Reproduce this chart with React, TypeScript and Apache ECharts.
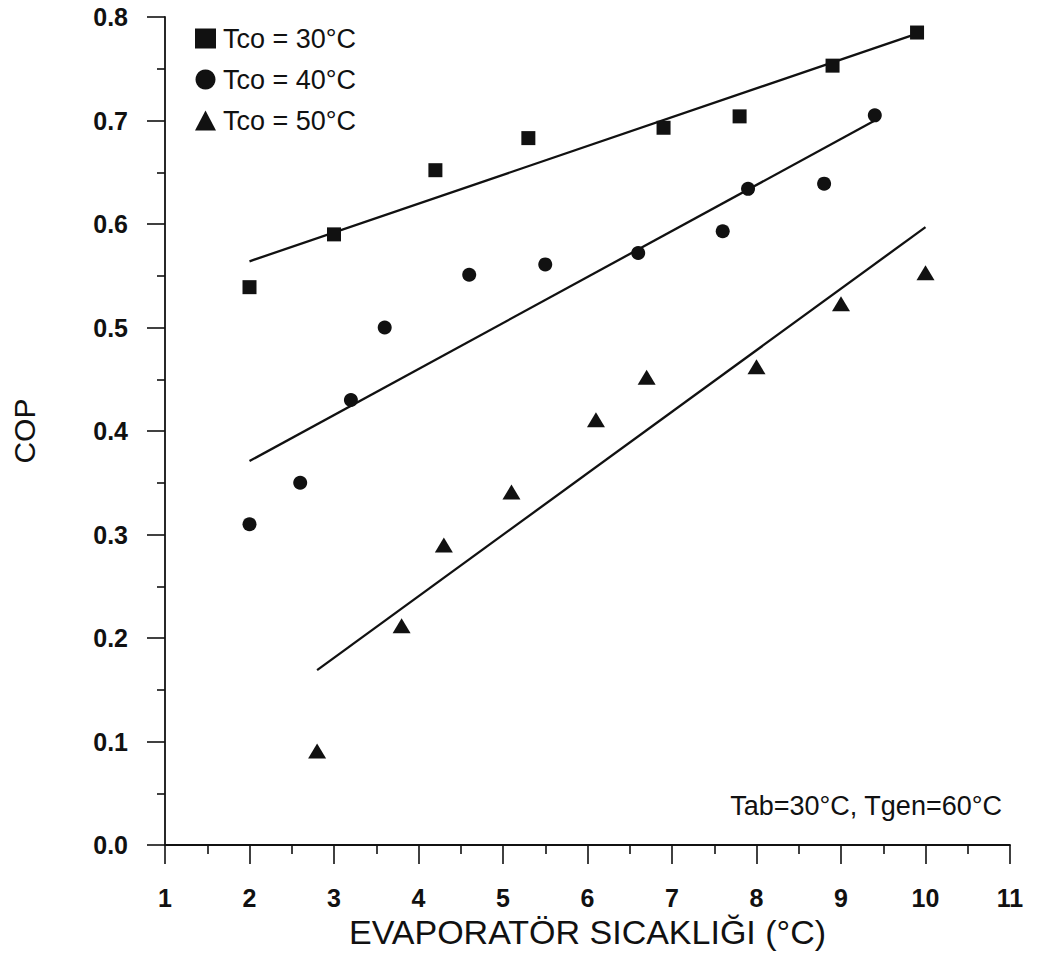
import React, { useEffect, useRef } from "react";
import * as echarts from "echarts";

const seriesNames = ["Tco = 30°C", "Tco = 40°C", "Tco = 50°C"];

const tco30: [number, number][] = [
  [2.0, 0.539], [3.0, 0.59], [4.2, 0.652], [5.3, 0.683],
  [6.9, 0.693], [7.8, 0.704], [8.9, 0.753], [9.9, 0.785],
];
const tco40: [number, number][] = [
  [2.0, 0.31], [2.6, 0.35], [3.2, 0.43], [3.6, 0.5], [4.6, 0.551],
  [5.5, 0.561], [6.6, 0.572], [7.6, 0.593], [7.9, 0.634], [8.8, 0.639], [9.4, 0.705],
];
const tco50: [number, number][] = [
  [2.8, 0.091], [3.8, 0.212], [4.3, 0.29], [5.1, 0.341], [6.1, 0.411],
  [6.7, 0.452], [8.0, 0.462], [9.0, 0.523], [10.0, 0.553],
];

const fit30: [number, number][] = [[2.0, 0.564], [9.9, 0.784]];
const fit40: [number, number][] = [[2.0, 0.371], [9.4, 0.7]];
const fit50: [number, number][] = [[2.8, 0.169], [10.0, 0.597]];

const xAxisTitle = "EVAPORATÖR SICAKLIĞI (°C)";
const yAxisTitle = "COP";
const noteText = "Tab=30°C, Tgen=60°C";

const INK = "#111111";
const FONT = "'Liberation Sans', Arial, Helvetica, sans-serif";

export default function App() {
  const ref = useRef<HTMLDivElement>(null);

  useEffect(() => {
    if (!ref.current) return;
    const chart = echarts.init(ref.current, undefined, { renderer: "svg" });
    const lineSeries = (data: [number, number][]) => ({
      type: "line",
      data,
      symbol: "none",
      silent: true,
      lineStyle: { color: INK, width: 2.3 },
      z: 2,
    });
    const markerStyle = { color: INK, opacity: 1 };
    chart.setOption({
      animation: false,
      backgroundColor: "#ffffff",
      textStyle: { fontFamily: FONT, color: INK },
      grid: { left: 165, right: 30, top: 17, bottom: 105, containLabel: false },
      legend: {
        orient: "vertical",
        left: 190,
        top: 20,
        itemWidth: 21,
        itemHeight: 20,
        itemGap: 14,
        selectedMode: false,
        itemStyle: { opacity: 1 },
        textStyle: { fontFamily: FONT, fontSize: 27, color: INK, lineHeight: 26, padding: [0, 0, 0, 2] },
        data: [
          { name: seriesNames[0], icon: "rect" },
          { name: seriesNames[1], icon: "circle" },
          { name: seriesNames[2], icon: "triangle" },
        ],
      },
      xAxis: {
        type: "value",
        min: 1,
        max: 11,
        interval: 1,
        name: xAxisTitle,
        nameLocation: "middle",
        nameGap: 56,
        nameTextStyle: { fontFamily: FONT, fontSize: 34, color: INK },
        axisLine: { show: true, onZero: false, lineStyle: { color: INK, width: 1.8 } },
        axisTick: { show: true, inside: false, length: 19, lineStyle: { color: INK, width: 1.6 } },
        minorTick: { show: true, splitNumber: 2, length: 9, lineStyle: { color: INK, width: 1.6 } },
        axisLabel: { margin: 40, fontFamily: FONT, fontSize: 25, fontWeight: "bold", color: INK },
        splitLine: { show: false },
      },
      yAxis: {
        type: "value",
        min: 0,
        max: 0.8,
        interval: 0.1,
        name: yAxisTitle,
        nameLocation: "middle",
        nameGap: 126,
        nameRotate: 90,
        nameTextStyle: { fontFamily: FONT, fontSize: 30, color: INK },
        axisLine: { show: true, onZero: false, lineStyle: { color: INK, width: 1.8 } },
        axisTick: { show: true, inside: false, length: 18, lineStyle: { color: INK, width: 1.6 } },
        minorTick: { show: true, splitNumber: 2, length: 8, lineStyle: { color: INK, width: 1.6 } },
        axisLabel: {
          margin: 37,
          fontFamily: FONT,
          fontSize: 25,
          fontWeight: "bold",
          color: INK,
          formatter: (v: number) => v.toFixed(1),
        },
        splitLine: { show: false },
      },
      graphic: [
        {
          type: "text",
          x: 1002,
          y: 806,
          style: {
            text: noteText,
            fontFamily: FONT,
            fontSize: 27,
            fill: INK,
            textAlign: "right",
            textVerticalAlign: "middle",
          },
        },
      ],
      series: [
        lineSeries(fit30),
        lineSeries(fit40),
        lineSeries(fit50),
        {
          name: seriesNames[0],
          type: "scatter",
          data: tco30,
          symbol: "rect",
          symbolSize: 14,
          itemStyle: markerStyle,
          z: 3,
        },
        {
          name: seriesNames[1],
          type: "scatter",
          data: tco40,
          symbol: "circle",
          symbolSize: 14,
          itemStyle: markerStyle,
          z: 3,
        },
        {
          name: seriesNames[2],
          type: "scatter",
          data: tco50,
          symbol: "triangle",
          symbolSize: [18, 15],
          itemStyle: markerStyle,
          z: 3,
        },
      ],
    });
    return () => chart.dispose();
  }, []);

  return (
    <div
      ref={ref}
      style={{ position: "absolute", left: 0, top: 0, width: 1040, height: 954, background: "#fff" }}
    />
  );
}
